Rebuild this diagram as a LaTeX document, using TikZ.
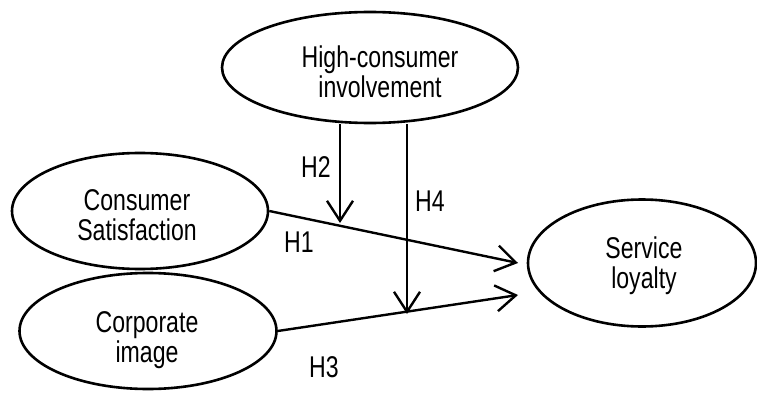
\documentclass[tikz,border=0pt]{standalone}
\usepackage{fontspec}
\setmainfont[FakeStretch=0.77]{Liberation Sans}
\usetikzlibrary{arrows.meta,shapes.geometric,calc}
\begin{document}
\begin{tikzpicture}[x=1pt,y=-1pt,
  oval/.style={draw=black,line width=2.6pt,ellipse,inner sep=0pt,fill=white},
  lbl/.style={font=\fontsize{30}{30}\selectfont,align=center,inner sep=0pt,text=black},
  hyp/.style={font=\fontsize{30}{30}\selectfont,inner sep=0pt,text=black},
  arr/.style={line width=2.4pt,-{Straight Barb[length=20pt,width=26pt,line width=2.4pt]}},
  seg/.style={line width=2.4pt}]
\useasboundingbox (0,0) rectangle (757,393);
% ellipses
\node[oval,minimum width=296pt,minimum height=111pt] (hci) at (370,67.5) {};
\node[oval,minimum width=256pt,minimum height=116pt] (cs) at (140,211) {};
\node[oval,minimum width=257pt,minimum height=116pt] (ci) at (148,331) {};
\node[oval,minimum width=228pt,minimum height=127pt] (sl) at (642,263) {};
% texts
\node[lbl] (hcit) at (380,72) {High-consumer\\involvement};
\node[lbl] (cst) at (137,215) {Consumer\\Satisfaction};
\node[lbl] (cit) at (147,340) {Corporate\\image};
\node[lbl] (slt) at (644,266) {Service\\loyalty};
% connector end points
\coordinate (e1) at (518,263);
\coordinate (e3) at (518,295);
\coordinate (p2) at (340,223);
\coordinate (p4) at (407,314);
% connectors
\draw[arr] (cs.east) -- (e1);
\draw[arr] (ci.east) -- (e3);
\draw[arr] (p2 |- hci.south) -- (p2);
\draw[arr] (p4 |- hci.south) -- (p4);
% hypothesis labels
\node[hyp] (h1) at (299,242) {H1};
\node[hyp] (h2) at (316,167) {H2};
\node[hyp] (h3) at (324,367) {H3};
\node[hyp] (h4) at (430,201) {H4};
\end{tikzpicture}
\end{document}
